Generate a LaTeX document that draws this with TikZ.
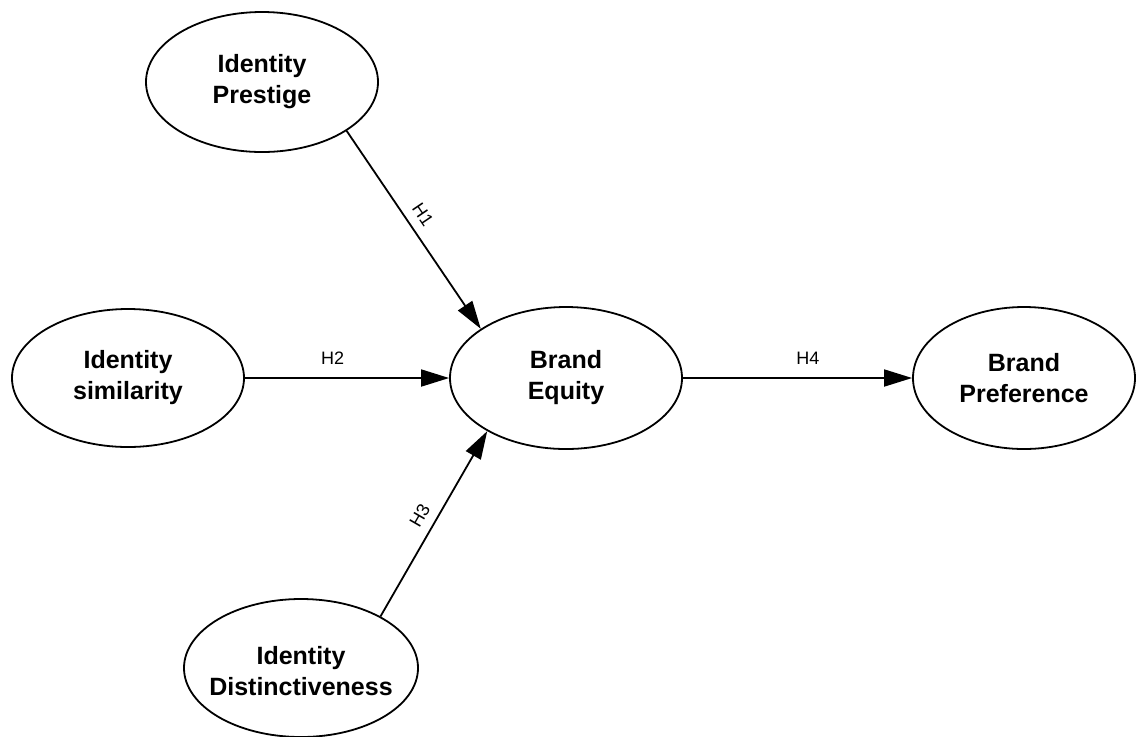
\documentclass[tikz,border=0pt]{standalone}
\usepackage{fontspec}
\setmainfont{Liberation Sans}
\usetikzlibrary{shapes.geometric,arrows.meta}
\begin{document}
\begin{tikzpicture}[x=0.5pt,y=-0.5pt,
  ell/.style={draw=black, line width=0.9pt, ellipse, fill=white, inner sep=0pt},
  txt/.style={align=center, font=\bfseries\fontsize{12.5}{15.5}\selectfont, inner sep=0pt},
  conn/.style={draw=black, line width=0.9pt, -{Triangle[length=14pt,width=8.5pt]}},
  hlab/.style={font=\fontsize{9}{10}\selectfont, inner sep=1.5pt}
]
\useasboundingbox (0,0) rectangle (1136,736);
\fill[white] (0,0) rectangle (1136,736);

\node[ell, minimum width=116pt, minimum height=70pt] (ip) at (262,82) {};
\node[ell, minimum width=116pt, minimum height=69pt] (is) at (128,378) {};
\node[ell, minimum width=116pt, minimum height=71pt] (be) at (566,378) {};
\node[ell, minimum width=111pt, minimum height=71pt] (bp) at (1024,378) {};
\node[ell, minimum width=117pt, minimum height=69pt] (id) at (301,668) {};

\node[txt] (ipt) at (ip) {Identity\\Prestige};
\node[txt] (ist) at (is) {Identity\\similarity};
\node[txt] (bet) at (be) {Brand\\Equity};
\node[txt] (bpt) at (bp) {Brand\\Preference};
\node[txt] (idt) at (id.center) [yshift=-1.5pt] {Identity\\Distinctiveness};

\draw[conn] (ip.330) -- node[hlab, pos=0.47, sloped, above=3pt] (h1) {H1} (be.150);
\draw[conn] (is.east) -- node[hlab, pos=0.43, above=5pt] (h2) {H2} (be.west);
\draw[conn] (id.33) -- node[hlab, pos=0.5, sloped, above=3pt] (h3) {H3} (be.214);
\draw[conn] (be.east) -- node[hlab, pos=0.545, above=5pt] (h4) {H4} (bp.west);
\end{tikzpicture}
\end{document}
